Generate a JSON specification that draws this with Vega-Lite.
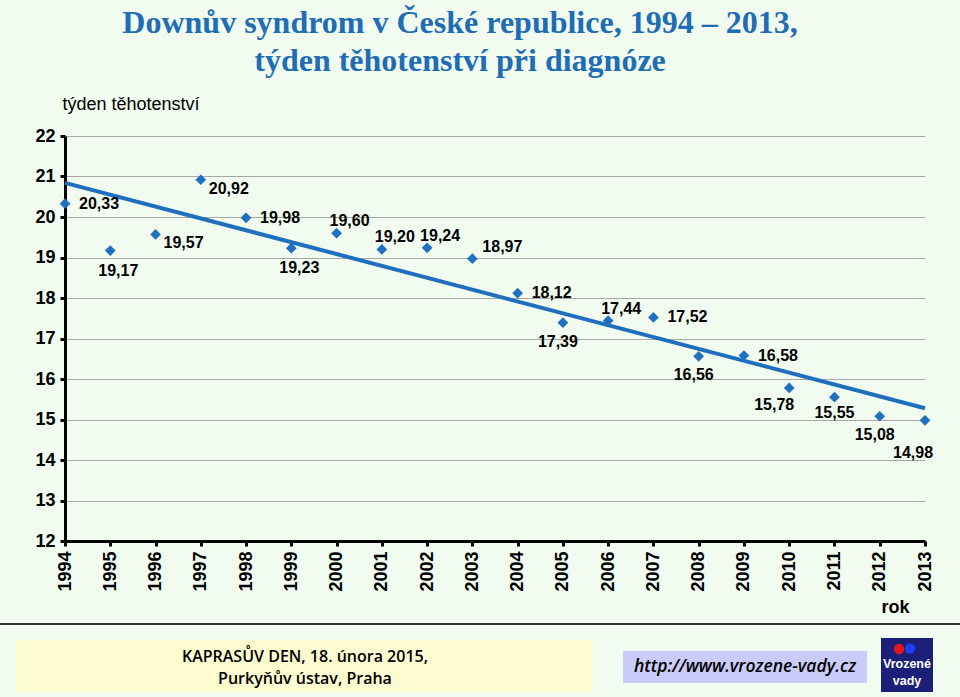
{
  "$schema": "https://vega.github.io/schema/vega-lite/v6.json",
  "autosize": {"type": "none"},
  "width": 860,
  "height": 405,
  "padding": {"left": 65, "top": 136, "right": 35, "bottom": 156},
  "background": "#f1fbf0",
  "config": {
    "view": {"stroke": null},
    "locale": {"number": {"decimal": ",", "thousands": "\u00a0", "grouping": [3], "currency": ["", " Kč"]}},
    "font": "Liberation Sans"
  },
  "title": {
    "text": ["Downův syndrom v České republice, 1994 – 2013,", "týden těhotenství při diagnóze"],
    "font": "Liberation Serif",
    "fontSize": 32,
    "fontWeight": "bold",
    "color": "#1f6db5",
    "lineHeight": 38,
    "anchor": "middle",
    "frame": "group",
    "dx": -35,
    "offset": 17
  },
  "layer": [
    {
      "data": {
        "values": [
          {"rok": 1994, "tyden": 20.33},
          {"rok": 1995, "tyden": 19.17},
          {"rok": 1996, "tyden": 19.57},
          {"rok": 1997, "tyden": 20.92},
          {"rok": 1998, "tyden": 19.98},
          {"rok": 1999, "tyden": 19.23},
          {"rok": 2000, "tyden": 19.60},
          {"rok": 2001, "tyden": 19.20},
          {"rok": 2002, "tyden": 19.24},
          {"rok": 2003, "tyden": 18.97},
          {"rok": 2004, "tyden": 18.12},
          {"rok": 2005, "tyden": 17.39},
          {"rok": 2006, "tyden": 17.44},
          {"rok": 2007, "tyden": 17.52},
          {"rok": 2008, "tyden": 16.56},
          {"rok": 2009, "tyden": 16.58},
          {"rok": 2010, "tyden": 15.78},
          {"rok": 2011, "tyden": 15.55},
          {"rok": 2012, "tyden": 15.08},
          {"rok": 2013, "tyden": 14.98}
        ]
      },
      "encoding": {
        "x": {
          "field": "rok", "type": "quantitative",
          "scale": {"domain": [1994, 2013], "nice": false, "zero": false},
          "axis": {
            "title": "rok",
            "values": [1994,1995,1996,1997,1998,1999,2000,2001,2002,2003,2004,2005,2006,2007,2008,2009,2010,2011,2012,2013],
            "format": "d",
            "labelAngle": 270,
            "labelFont": "Liberation Sans",
            "labelFontSize": 18,
            "labelFontWeight": "bold",
            "labelColor": "#000000",
            "labelPadding": 5,
            "labelFlush": false,
            "labelOverlap": false,
            "domainColor": "#000000",
            "domainWidth": 3,
            "tickColor": "#000000",
            "tickWidth": 3,
            "tickSize": 5,
            "grid": false,
            "titleFont": "Liberation Sans",
            "titleFontSize": 18,
            "titleFontWeight": "bold",
            "titleColor": "#000000",
            "titleAlign": "center",
            "titleBaseline": "middle",
            "titleX": 830,
            "titleY": 66
          }
        },
        "y": {
          "field": "tyden", "type": "quantitative",
          "scale": {"domain": [12, 22], "nice": false, "zero": false},
          "axis": {
            "title": "týden  těhotenství",
            "values": [12,13,14,15,16,17,18,19,20,21,22],
            "labelFont": "Liberation Sans",
            "labelFontSize": 18,
            "labelFontWeight": "bold",
            "labelColor": "#000000",
            "labelPadding": 5,
            "labelFlush": false,
            "domainColor": "#000000",
            "domainWidth": 3,
            "tickColor": "#000000",
            "tickWidth": 3,
            "tickSize": 5,
            "grid": true,
            "gridColor": "#a8a8a8",
            "gridWidth": 1.2,
            "titleFont": "Liberation Sans",
            "titleFontSize": 18,
            "titleFontWeight": "normal",
            "titleColor": "#000000",
            "titleAngle": 0,
            "titleAlign": "left",
            "titleBaseline": "middle",
            "titleX": -3,
            "titleY": -32
          }
        }
      },
      "layer": [
        {
          "transform": [{"regression": "tyden", "on": "rok", "method": "linear", "extent": [1994, 2013]}],
          "mark": {"type": "line", "stroke": "#1f6fbf", "strokeWidth": 4},
          "encoding": {}
        },
        {
          "mark": {"type": "point", "shape": "diamond", "filled": true, "color": "#2070c0", "size": 115, "opacity": 1},
          "encoding": {}
        },
        {
          "transform": [{"filter": {"field": "rok", "oneOf": [1994, 1998, 2004, 2007, 2009]}}],
          "mark": {"type": "text", "align": "left", "baseline": "middle", "dx": 14, "dy": 0, "fontSize": 16, "fontWeight": "bold", "color": "#000000"},
          "encoding": {"text": {"field": "tyden", "type": "quantitative", "format": ".2f"}}
        },
        {
          "transform": [{"filter": {"field": "rok", "oneOf": [1996, 1997]}}],
          "mark": {"type": "text", "align": "left", "baseline": "middle", "dx": 8, "dy": 9, "fontSize": 16, "fontWeight": "bold", "color": "#000000"},
          "encoding": {"text": {"field": "tyden", "type": "quantitative", "format": ".2f"}}
        },
        {
          "transform": [{"filter": {"field": "rok", "oneOf": [1995, 1999]}}],
          "mark": {"type": "text", "align": "center", "baseline": "middle", "dx": 8, "dy": 20, "fontSize": 16, "fontWeight": "bold", "color": "#000000"},
          "encoding": {"text": {"field": "tyden", "type": "quantitative", "format": ".2f"}}
        },
        {
          "transform": [{"filter": {"field": "rok", "oneOf": [2005, 2008, 2012]}}],
          "mark": {"type": "text", "align": "center", "baseline": "middle", "dx": -5, "dy": 19, "fontSize": 16, "fontWeight": "bold", "color": "#000000"},
          "encoding": {"text": {"field": "tyden", "type": "quantitative", "format": ".2f"}}
        },
        {
          "transform": [{"filter": {"field": "rok", "oneOf": [2010]}}],
          "mark": {"type": "text", "align": "center", "baseline": "middle", "dx": -15, "dy": 17, "fontSize": 16, "fontWeight": "bold", "color": "#000000"},
          "encoding": {"text": {"field": "tyden", "type": "quantitative", "format": ".2f"}}
        },
        {
          "transform": [{"filter": {"field": "rok", "oneOf": [2011]}}],
          "mark": {"type": "text", "align": "center", "baseline": "middle", "dx": 0, "dy": 16, "fontSize": 16, "fontWeight": "bold", "color": "#000000"},
          "encoding": {"text": {"field": "tyden", "type": "quantitative", "format": ".2f"}}
        },
        {
          "transform": [{"filter": {"field": "rok", "oneOf": [2000, 2001, 2002, 2006]}}],
          "mark": {"type": "text", "align": "center", "baseline": "middle", "dx": 13, "dy": -12, "fontSize": 16, "fontWeight": "bold", "color": "#000000"},
          "encoding": {"text": {"field": "tyden", "type": "quantitative", "format": ".2f"}}
        },
        {
          "transform": [{"filter": {"field": "rok", "oneOf": [2003]}}],
          "mark": {"type": "text", "align": "left", "baseline": "middle", "dx": 10, "dy": -12, "fontSize": 16, "fontWeight": "bold", "color": "#000000"},
          "encoding": {"text": {"field": "tyden", "type": "quantitative", "format": ".2f"}}
        },
        {
          "transform": [{"filter": {"field": "rok", "oneOf": [2013]}}],
          "mark": {"type": "text", "align": "center", "baseline": "middle", "dx": -12, "dy": 33, "fontSize": 16, "fontWeight": "bold", "color": "#000000"},
          "encoding": {"text": {"field": "tyden", "type": "quantitative", "format": ".2f"}}
        }
      ]
    },
    {
      "data": {"values": [{"decor": 1}]},
      "mark": {"type": "rule", "stroke": "#333333", "strokeWidth": 2, "clip": false},
      "encoding": {
        "x": {"datum": 1992.564, "type": "quantitative"}, "x2": {"datum": 2013.774},
        "y": {"datum": 9.951, "type": "quantitative"}
      }
    },
    {
      "data": {"values": [{"decor": 2}]},
      "mark": {"type": "rect", "fill": "#fdfbd0", "clip": false},
      "encoding": {
        "x": {"datum": 1992.917, "type": "quantitative"}, "x2": {"datum": 2005.665},
        "y": {"datum": 9.556, "type": "quantitative"}, "y2": {"datum": 8.272}
      }
    },
    {
      "data": {"values": [{"decor": 3}]},
      "mark": {"type": "text", "text": "KAPRASŮV DEN, 18. února 2015,", "font": "Open Sans", "fontSize": 16, "fontWeight": 600, "color": "#000000", "align": "center", "baseline": "middle", "clip": false},
      "encoding": {"x": {"datum": 1999.302, "type": "quantitative"}, "y": {"datum": 9.136, "type": "quantitative"}}
    },
    {
      "data": {"values": [{"decor": 4}]},
      "mark": {"type": "text", "text": "Purkyňův ústav, Praha", "font": "Open Sans", "fontSize": 16, "fontWeight": 600, "color": "#000000", "align": "center", "baseline": "middle", "clip": false},
      "encoding": {"x": {"datum": 1999.302, "type": "quantitative"}, "y": {"datum": 8.593, "type": "quantitative"}}
    },
    {
      "data": {"values": [{"decor": 5}]},
      "mark": {"type": "rect", "fill": "#c9cbf8", "clip": false},
      "encoding": {
        "x": {"datum": 2006.328, "type": "quantitative"}, "x2": {"datum": 2011.719},
        "y": {"datum": 9.284, "type": "quantitative"}, "y2": {"datum": 8.494}
      }
    },
    {
      "data": {"values": [{"decor": 6}]},
      "mark": {"type": "text", "text": "http://www.vrozene-vady.cz", "font": "Open Sans", "fontStyle": "italic", "fontWeight": 600, "fontSize": 17.5, "color": "#000000", "align": "center", "baseline": "middle", "clip": false},
      "encoding": {"x": {"datum": 2009.023, "type": "quantitative"}, "y": {"datum": 8.889, "type": "quantitative"}}
    },
    {
      "data": {"values": [{"decor": 7}]},
      "mark": {"type": "rect", "fill": "#1b1f78", "clip": false},
      "encoding": {
        "x": {"datum": 2012.028, "type": "quantitative"}, "x2": {"datum": 2013.177},
        "y": {"datum": 9.605, "type": "quantitative"}, "y2": {"datum": 8.272}
      }
    },
    {
      "data": {"values": [{"decor": 8}]},
      "mark": {"type": "point", "shape": "circle", "filled": true, "fill": "#e01818", "size": 110, "opacity": 1, "clip": false},
      "encoding": {"x": {"datum": 2012.426, "type": "quantitative"}, "y": {"datum": 9.333, "type": "quantitative"}}
    },
    {
      "data": {"values": [{"decor": 9}]},
      "mark": {"type": "point", "shape": "circle", "filled": true, "fill": "#1e3cf0", "size": 110, "opacity": 1, "clip": false},
      "encoding": {"x": {"datum": 2012.669, "type": "quantitative"}, "y": {"datum": 9.345, "type": "quantitative"}}
    },
    {
      "data": {"values": [{"decor": 10}]},
      "mark": {"type": "text", "text": "Vrozené", "font": "Liberation Sans", "fontWeight": "bold", "fontSize": 12.5, "color": "#ffffff", "align": "center", "baseline": "middle", "clip": false},
      "encoding": {"x": {"datum": 2012.602, "type": "quantitative"}, "y": {"datum": 8.963, "type": "quantitative"}}
    },
    {
      "data": {"values": [{"decor": 11}]},
      "mark": {"type": "text", "text": "vady", "font": "Liberation Sans", "fontWeight": "bold", "fontSize": 12.5, "color": "#ffffff", "align": "center", "baseline": "middle", "clip": false},
      "encoding": {"x": {"datum": 2012.602, "type": "quantitative"}, "y": {"datum": 8.543, "type": "quantitative"}}
    }
  ]
}
